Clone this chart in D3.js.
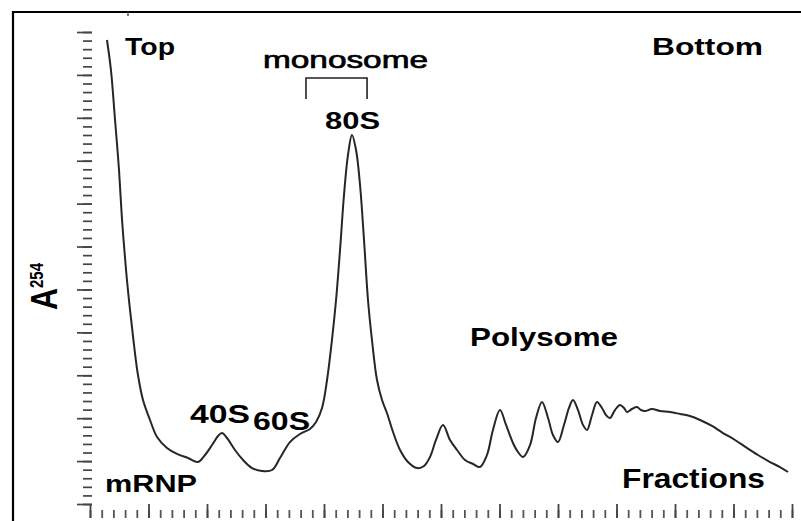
<!DOCTYPE html>
<html>
<head>
<meta charset="utf-8">
<script src="https://cdn.jsdelivr.net/npm/d3@7"></script>
<style>
  html, body { margin: 0; padding: 0; background: #fff; }
  svg { display: block; }
  text { font-family: "Liberation Sans", Arial, sans-serif; fill: #000; }
</style>
</head>
<body>
<svg id="chart" width="801" height="521"></svg>
<script>
// ---- data (fraction position, absorbance units) ----
const fractionPos = [1.45,1.79,2.14,2.48,2.74,3.08,3.42,3.76,4.10,4.53,5.13,5.73,6.58,7.44,8.38,9.23,9.83,10.43,10.94,11.28,11.71,12.39,13.08,13.85,14.70,15.56,16.24,17.09,17.95,18.80,19.32,19.83,20.26,20.68,21.03,21.37,21.71,22.05,22.39,22.74,23.08,23.42,23.76,24.10,24.53,24.96,25.38,25.90,26.50,27.18,27.95,28.55,29.06,29.57,30.17,30.77,31.37,32.05,32.74,33.33,33.93,34.44,35.04,35.56,36.15,36.58,37.01,37.61,38.12,38.63,39.15,39.57,40.00,40.51,40.94,41.28,41.71,42.14,42.48,42.91,43.33,43.76,44.10,44.44,44.87,45.30,45.64,45.90,46.32,46.75,47.09,47.44,48.03,48.72,49.57,50.43,51.28,52.14,53.16,54.10,55.13,56.15,57.09,58.12,58.97,59.66];
const absorbance = [54.07,50.57,44.75,38.92,33.09,27.27,22.61,18.53,15.03,12.12,9.79,7.81,6.53,5.83,5.36,4.89,5.71,6.87,7.92,8.27,7.69,6.29,5.13,4.19,3.85,3.96,5.36,7.22,8.16,8.74,9.55,11.19,14.45,19.11,23.77,29.60,36.01,40.67,43.00,41.25,37.17,30.76,23.77,19.11,14.45,12.12,10.60,8.39,6.29,4.89,4.19,4.43,5.48,7.46,9.21,7.46,6.29,5.13,4.66,4.31,5.71,8.62,10.95,9.21,7.11,6.06,5.48,6.87,10.02,11.89,10.02,8.04,7.22,9.21,11.19,12.12,10.95,9.21,8.62,10.37,11.89,11.19,10.37,10.02,10.95,11.54,11.19,10.72,11.07,11.30,10.95,10.84,11.07,10.84,10.72,10.49,10.25,9.79,9.09,8.27,7.46,6.53,5.71,4.89,4.31,3.73];

const xMajorTicks = d3.range(0, 61, 5);
const xMinorTicks = d3.range(0, 61, 1);
const yMajorTicks = d3.range(0, 56, 5);
const yMinorTicks = d3.range(0, 56, 1);

const monosomeSpan = [18.46, 23.68];

const peakLabels = ["Top", "Bottom", "monosome", "80S", "40S", "60S", "mRNP", "Polysome", "Fractions"];
const yTitle = "A";
const yTitleSup = "254";

// ---- drawing ----
const svg = d3.select("#chart");
const x = d3.scaleLinear().domain([0, 60]).range([90, 792]);
const y = d3.scaleLinear().domain([0, 55]).range([504, 32]);

// frame
svg.append("line").attr("x1", 13).attr("x2", 13).attr("y1", 11).attr("y2", 521)
  .attr("stroke", "#000").attr("stroke-width", 2.2);
svg.append("line").attr("x1", 12).attr("x2", 801).attr("y1", 12).attr("y2", 12)
  .attr("stroke", "#000").attr("stroke-width", 2.2);
svg.append("line").attr("x1", 128).attr("x2", 128).attr("y1", 12).attr("y2", 16)
  .attr("stroke", "#555").attr("stroke-width", 1.5);

// y axis ticks
function styleAxis(g, col, w) {
  g.select(".domain").remove();
  g.selectAll(".tick text").remove();
  g.selectAll(".tick line").attr("stroke", col).attr("stroke-width", w);
}
svg.append("g").attr("transform", "translate(92,0)")
  .call(d3.axisLeft(y).tickValues(yMinorTicks).tickSize(9).tickFormat(""))
  .call(g => styleAxis(g, "#444", 1.7));
svg.append("g").attr("transform", "translate(92,0)")
  .call(d3.axisLeft(y).tickValues(yMajorTicks).tickSize(15).tickFormat(""))
  .call(g => styleAxis(g, "#444", 1.7));

// x axis ticks
svg.append("g").attr("transform", "translate(0,518)")
  .call(d3.axisTop(x).tickValues(xMinorTicks).tickSize(8).tickFormat(""))
  .call(g => styleAxis(g, "#555", 1.8));
svg.append("g").attr("transform", "translate(0,518)")
  .call(d3.axisTop(x).tickValues(xMajorTicks).tickSize(14).tickFormat(""))
  .call(g => styleAxis(g, "#444", 1.8));

// curve
const pts = fractionPos.map((f, i) => [f, absorbance[i]]);
svg.append("path")
  .datum(pts)
  .attr("fill", "none")
  .attr("stroke", "#262626")
  .attr("stroke-width", 2)
  .attr("stroke-linejoin", "round")
  .attr("d", d3.line().curve(d3.curveCatmullRom.alpha(0.5)).x(d => x(d[0])).y(d => y(d[1])));

// monosome bracket
svg.append("path")
  .attr("d", `M${x(monosomeSpan[0])},99 V78 H${x(monosomeSpan[1])} V99`)
  .attr("fill", "none").attr("stroke", "#222").attr("stroke-width", 1.6);

// labels
const labelLayout = [
  {x: 125, y: 55, w: 50, fs: 24, bold: true},
  {x: 652, y: 55, w: 111, fs: 24, bold: true},
  {x: 263, y: 68, w: 165, fs: 24, bold: false},
  {x: 325, y: 129, w: 55, fs: 24, bold: true},
  {x: 190, y: 423, w: 60, fs: 25, bold: true},
  {x: 253, y: 430, w: 57, fs: 25, bold: true},
  {x: 105, y: 492, w: 92, fs: 24, bold: true},
  {x: 470, y: 346, w: 148, fs: 26, bold: true},
  {x: 622, y: 488, w: 143, fs: 27, bold: true}
];
peakLabels.forEach((t, i) => {
  const L = labelLayout[i];
  const el = svg.append("text")
    .attr("x", L.x).attr("y", L.y)
    .attr("font-size", L.fs)
    .attr("font-weight", L.bold ? "bold" : "normal")
    .attr("textLength", L.w)
    .attr("lengthAdjust", "spacingAndGlyphs")
    .text(t);
  if (!L.bold) el.attr("stroke", "#000").attr("stroke-width", 0.7);
});

// y title A^254 (rotated)
svg.append("text")
  .attr("transform", "translate(57,310) scale(1.25,1) rotate(-90)")
  .attr("font-size", 30).attr("font-weight", "bold")
  .attr("textLength", 22).attr("lengthAdjust", "spacingAndGlyphs")
  .text(yTitle);
svg.append("text")
  .attr("transform", "translate(43,288) scale(1.25,1) rotate(-90)")
  .attr("font-size", 14).attr("font-weight", "bold")
  .attr("textLength", 25).attr("lengthAdjust", "spacingAndGlyphs")
  .text(yTitleSup);
</script>
</body>
</html>
